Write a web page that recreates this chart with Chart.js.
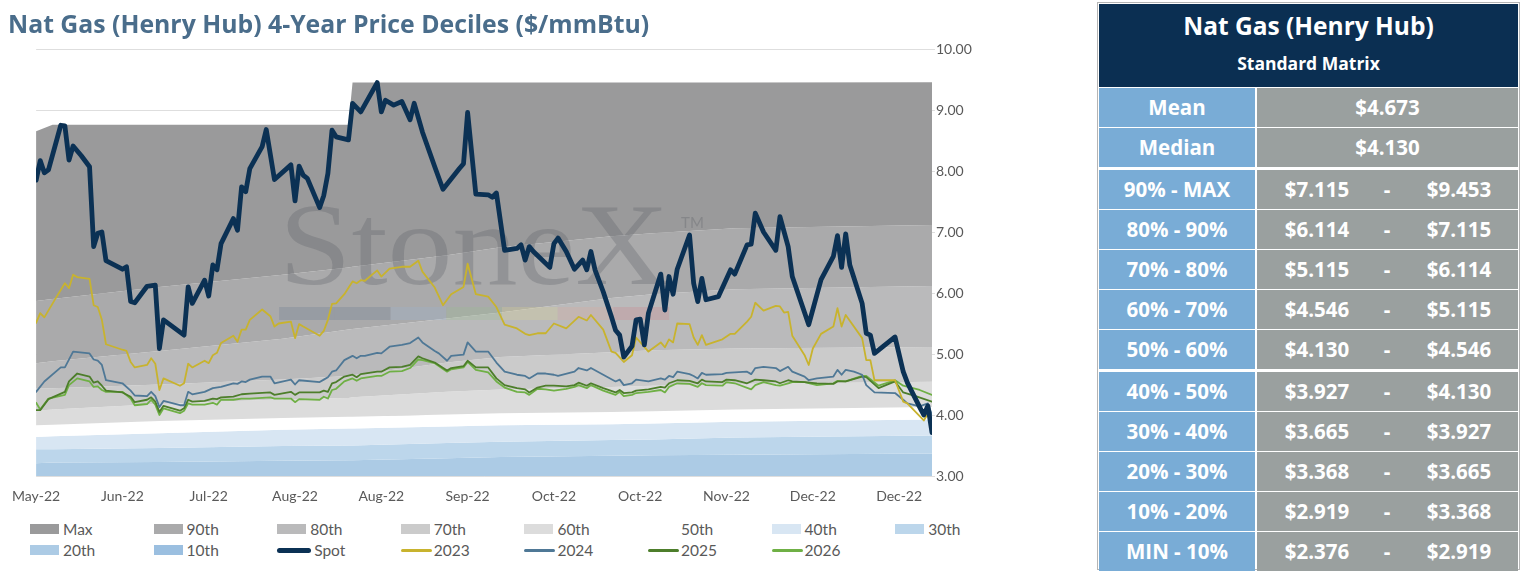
<!DOCTYPE html>
<html lang="en">
<head>
    <meta charset="UTF-8" />
    <title>Nat Gas (Henry Hub) 4-Year Price Deciles</title>
    <style>
        * { margin: 0; padding: 0; box-sizing: border-box; }
        body { width: 1522px; height: 572px; background: #fff; position: relative; overflow: hidden; font-family: Lato, "Open Sans", sans-serif; }
        #title { position: absolute; left: 8px; top: 6px; font-family: "Open Sans", sans-serif; font-size: 24.8px; font-weight: 700; color: #4a6d8b; white-space: nowrap; z-index: 2; }
        .chartBox { position: absolute; left: 0; top: 0; width: 1000px; height: 515px; }
        #legend { position: absolute; left: 0; top: 519px; width: 1000px; height: 45px; font-size: 15.5px; color: #595959; }
        .lg { position: absolute; height: 20px; line-height: 20px; white-space: nowrap; }
        .lg i { position: absolute; left: 0; display: block; }
        .lg span { position: absolute; left: 33px; }
        #matrix { position: absolute; left: 1097px; top: 2px; width: 423px; height: 568px; border: 1px solid #b5b5b5; background: #fff; font-family: "Open Sans", sans-serif; }
        .hdr { position: absolute; left: 1px; top: 1px; width: 419px; height: 83px; background: #0b2f52; color: #fff; text-align: center; font-weight: 700; }
        .hdr .t1 { font-size: 24.5px; line-height: 30px; padding-top: 7px; }
        .hdr .t2 { font-size: 17.5px; line-height: 22px; padding-top: 11px; }
        .row { position: absolute; left: 1px; width: 419px; height: 39px; color: #fff; font-weight: 700; font-size: 20.5px; }
        .row .lab { position: absolute; left: 0; top: 0; width: 156px; height: 39px; line-height: 39px; background: #79acd6; text-align: center; }
        .row .val { position: absolute; left: 158px; top: 0; width: 261px; height: 39px; line-height: 39px; background: #9aa09f; }
        .val .c { position: absolute; left: 0; width: 261px; text-align: center; }
        .val .lo { position: absolute; left: 8px; width: 104px; text-align: center; }
        .val .dash { position: absolute; left: 110px; width: 40px; text-align: center; }
        .val .hi { position: absolute; left: 150px; width: 104px; text-align: center; }
    </style>
</head>
<body>
    <div id="title">Nat Gas (Henry Hub) 4-Year Price Deciles ($/mmBtu)</div>
    <div class="chartBox"><canvas id="myChart"></canvas></div>
    <div id="legend"></div>
    <div id="matrix"></div>

    <script src="https://cdn.jsdelivr.net/npm/chart.js@4.4.1/dist/chart.umd.min.js"></script>
    <script>
        // x axis = trading calendar days from the first date
        const tickLabels = ["May-22", "Jun-22", "Jul-22", "Aug-22", "Aug-22", "Sep-22", "Oct-22", "Oct-22", "Nov-22", "Dec-22", "Dec-22"];
        const tickDays = [0, 21, 42, 63, 84, 105, 126, 147, 168, 189, 210];
        const yTicks = [3, 4, 5, 6, 7, 8, 9, 10];

        // decile bands, read at these days
        const bandDays = [0, 4, 30, 60, 76, 77, 100, 113, 140, 150, 170, 218];
        const bandMax = [8.65, 8.76, 8.76, 8.76, 8.76, 9.45, 9.45, 9.45, 9.45, 9.45, 9.45, 9.453];
        const band90 = [5.87, 5.90, 6.10, 6.30, 6.42, 6.43, 6.62, 6.75, 6.93, 6.98, 7.06, 7.115];
        const band80 = [4.85, 4.88, 5.05, 5.25, 5.40, 5.41, 5.58, 5.68, 5.92, 5.98, 6.06, 6.114];
        const band70 = [4.43, 4.44, 4.50, 4.58, 4.64, 4.65, 4.86, 4.95, 5.03, 5.06, 5.09, 5.115];
        const band60 = [4.07, 4.09, 4.18, 4.26, 4.28, 4.29, 4.38, 4.42, 4.46, 4.48, 4.51, 4.546];
        const band50 = [3.83, 3.84, 3.90, 3.95, 3.97, 3.97, 4.01, 4.03, 4.05, 4.06, 4.09, 4.130];
        const band40 = [3.64, 3.65, 3.70, 3.76, 3.78, 3.78, 3.81, 3.83, 3.85, 3.86, 3.89, 3.927];
        const band30 = [3.44, 3.44, 3.46, 3.49, 3.50, 3.50, 3.54, 3.56, 3.59, 3.60, 3.63, 3.665];
        const band20 = [3.21, 3.22, 3.23, 3.25, 3.26, 3.26, 3.29, 3.31, 3.33, 3.34, 3.35, 3.368];
        const band10 = [2.75, 2.76, 2.78, 2.80, 2.81, 2.81, 2.84, 2.86, 2.88, 2.89, 2.90, 2.919];
        const bandMin = [2.20, 2.21, 2.23, 2.26, 2.27, 2.27, 2.30, 2.32, 2.34, 2.35, 2.36, 2.376];

        // [day, price]
        const spot = [[0,7.85],[1,8.17],[2,7.97],[3,8.02],[6,8.75],[7,8.74],[8,8.18],[9,8.41],[11,8.25],[13,8.07],[14,6.76],[15,6.98],[16,7.00],[17,6.53],[21,6.39],[22,6.43],[23,5.86],[24,5.84],[27,6.11],[29,6.13],[30,5.09],[31,5.56],[36,5.31],[37,6.10],[38,5.83],[41,6.21],[42,5.95],[43,6.46],[44,6.38],[45,6.81],[48,7.22],[49,7.03],[50,7.74],[51,7.66],[52,8.04],[55,8.40],[56,8.68],[58,7.86],[62,8.10],[63,7.51],[64,8.08],[65,7.93],[66,7.88],[69,7.40],[70,7.60],[71,7.96],[72,8.67],[73,8.56],[76,8.51],[77,9.11],[79,8.97],[83,9.45],[84,8.97],[85,9.16],[87,9.08],[89,9.14],[91,8.84],[92,9.11],[94,8.64],[97,8.07],[99,7.70],[103,8.04],[104,8.12],[105,8.96],[107,7.62],[110,7.61],[111,7.57],[112,7.64],[114,6.70],[117,6.73],[118,6.79],[119,6.54],[120,6.76],[121,6.68],[125,6.42],[126,6.81],[127,6.90],[129,6.68],[131,6.39],[133,6.54],[134,6.38],[135,6.68],[136,6.38],[138,6.02],[140,5.61],[141,5.39],[142,5.31],[143,4.95],[145,5.13],[146,5.56],[147,5.57],[148,5.15],[149,5.67],[152,6.31],[153,5.72],[154,6.27],[155,5.98],[156,6.39],[159,6.95],[160,6.16],[161,5.86],[162,6.24],[163,5.89],[166,5.94],[169,6.38],[170,6.31],[173,6.79],[174,6.80],[175,7.31],[177,7.00],[180,6.70],[181,7.25],[183,6.76],[184,6.27],[188,5.48],[191,6.22],[194,6.60],[195,6.94],[196,6.42],[197,6.97],[198,6.46],[201,5.83],[202,5.34],[203,5.31],[204,5.01],[209,5.28],[211,4.71],[212,4.53],[215,4.13],[216,4.00],[217,4.15],[218,3.71]];
        const strip2023 = [[0,5.51],[1,5.67],[2,5.60],[5,5.94],[7,6.16],[8,6.08],[9,6.30],[10,6.26],[13,6.23],[14,5.80],[15,5.77],[16,5.56],[17,5.16],[21,5.07],[22,5.05],[23,4.87],[24,4.78],[27,4.82],[28,4.93],[29,4.84],[30,4.41],[31,4.60],[35,4.48],[36,4.52],[37,4.84],[38,4.78],[41,4.89],[42,4.85],[43,4.98],[44,5.02],[45,5.18],[48,5.30],[49,5.20],[50,5.40],[51,5.40],[52,5.56],[55,5.73],[57,5.62],[58,5.45],[59,5.50],[62,5.53],[63,5.26],[64,5.49],[65,5.45],[69,5.30],[70,5.38],[71,5.56],[72,5.82],[73,5.83],[75,5.98],[77,6.19],[78,6.16],[79,6.21],[80,6.20],[83,6.37],[84,6.27],[86,6.40],[89,6.43],[91,6.43],[93,6.53],[94,6.35],[97,6.09],[99,5.80],[101,5.98],[104,6.10],[105,6.48],[107,5.98],[110,5.94],[112,5.77],[114,5.48],[117,5.42],[119,5.33],[120,5.31],[122,5.34],[124,5.34],[126,5.50],[129,5.42],[132,5.61],[134,5.55],[135,5.64],[138,5.40],[140,5.04],[141,5.02],[143,4.87],[145,4.98],[146,5.27],[149,5.04],[152,5.19],[153,5.11],[154,5.24],[155,5.19],[156,5.50],[159,5.49],[160,5.27],[161,5.15],[162,5.31],[163,5.15],[167,5.24],[169,5.33],[170,5.33],[173,5.53],[174,5.61],[175,5.84],[177,5.71],[180,5.79],[181,5.78],[182,5.68],[183,5.69],[184,5.30],[187,4.98],[188,4.82],[189,5.09],[191,5.33],[194,5.45],[195,5.75],[196,5.45],[197,5.64],[201,5.26],[202,4.90],[203,4.90],[204,4.57],[209,4.57],[211,4.22],[212,4.19],[216,3.91],[217,4.02],[218,3.74]];
        const strip2024 = [[0,4.38],[2,4.55],[6,4.78],[7,4.78],[9,5.04],[13,5.01],[14,4.91],[15,4.89],[16,4.82],[17,4.57],[21,4.52],[23,4.40],[24,4.32],[27,4.31],[28,4.38],[29,4.31],[30,4.13],[31,4.23],[35,4.16],[36,4.16],[37,4.38],[38,4.34],[41,4.38],[43,4.44],[45,4.46],[48,4.52],[49,4.51],[50,4.55],[51,4.54],[52,4.58],[55,4.63],[57,4.63],[58,4.52],[62,4.58],[63,4.50],[64,4.57],[69,4.54],[70,4.58],[71,4.62],[72,4.71],[73,4.73],[75,4.90],[77,4.97],[78,4.93],[79,4.97],[80,4.97],[83,5.02],[84,5.01],[86,5.12],[89,5.15],[91,5.18],[93,5.27],[94,5.19],[97,5.05],[98,5.01],[100,4.89],[101,4.97],[104,4.99],[105,5.19],[107,5.04],[110,5.04],[112,4.86],[114,4.71],[117,4.66],[119,4.64],[120,4.60],[122,4.68],[124,4.68],[126,4.66],[127,4.64],[131,4.71],[132,4.77],[134,4.73],[135,4.77],[138,4.66],[141,4.55],[142,4.58],[143,4.49],[145,4.52],[146,4.58],[149,4.55],[152,4.60],[153,4.58],[154,4.64],[155,4.62],[156,4.71],[159,4.67],[160,4.64],[161,4.60],[162,4.69],[163,4.66],[167,4.67],[168,4.69],[173,4.71],[174,4.67],[175,4.77],[177,4.79],[180,4.77],[181,4.72],[183,4.79],[184,4.71],[187,4.63],[188,4.57],[190,4.60],[194,4.63],[195,4.74],[196,4.66],[197,4.74],[199,4.71],[201,4.66],[202,4.49],[204,4.37],[209,4.36],[211,4.25],[212,4.19],[215,4.14],[217,4.19],[218,4.00]];
        const strip2025 = [[0,4.08],[1,4.08],[3,4.26],[7,4.38],[8,4.55],[10,4.68],[13,4.63],[14,4.53],[15,4.55],[16,4.48],[17,4.40],[21,4.37],[23,4.30],[24,4.21],[27,4.25],[28,4.29],[29,4.22],[30,4.05],[31,4.15],[35,4.07],[36,4.11],[37,4.25],[38,4.22],[41,4.23],[43,4.27],[44,4.26],[45,4.29],[48,4.30],[50,4.34],[52,4.35],[57,4.37],[58,4.33],[62,4.38],[63,4.33],[64,4.37],[69,4.37],[70,4.40],[71,4.38],[72,4.52],[73,4.54],[75,4.63],[77,4.66],[78,4.62],[79,4.67],[83,4.71],[84,4.71],[86,4.78],[89,4.79],[91,4.82],[93,4.96],[94,4.93],[97,4.86],[100,4.73],[101,4.77],[104,4.80],[105,4.89],[107,4.78],[110,4.78],[112,4.60],[114,4.49],[117,4.44],[119,4.42],[120,4.37],[122,4.45],[124,4.48],[126,4.48],[129,4.47],[131,4.49],[132,4.53],[134,4.48],[135,4.52],[138,4.44],[141,4.37],[142,4.41],[143,4.36],[145,4.37],[146,4.40],[149,4.42],[152,4.46],[153,4.45],[154,4.52],[156,4.57],[159,4.56],[161,4.52],[162,4.58],[163,4.55],[167,4.54],[168,4.58],[170,4.57],[173,4.52],[175,4.58],[177,4.57],[180,4.55],[181,4.52],[183,4.57],[184,4.55],[187,4.54],[190,4.52],[194,4.51],[195,4.55],[197,4.55],[201,4.63],[202,4.62],[205,4.44],[209,4.55],[211,4.37],[214,4.31],[218,4.22]];
        const strip2026 = [[0,4.20],[1,4.09],[3,4.27],[7,4.33],[8,4.49],[10,4.60],[13,4.55],[14,4.46],[15,4.47],[16,4.41],[17,4.38],[21,4.38],[23,4.27],[24,4.16],[27,4.18],[28,4.25],[29,4.17],[30,4.00],[31,4.11],[35,4.03],[36,4.07],[37,4.19],[38,4.17],[41,4.17],[43,4.20],[44,4.17],[45,4.25],[48,4.25],[50,4.27],[52,4.27],[57,4.29],[58,4.27],[62,4.27],[63,4.21],[64,4.26],[69,4.25],[70,4.30],[71,4.27],[72,4.41],[73,4.43],[75,4.55],[77,4.60],[78,4.56],[79,4.60],[83,4.64],[84,4.64],[86,4.71],[89,4.72],[91,4.77],[93,4.91],[94,4.90],[97,4.85],[100,4.71],[101,4.75],[104,4.78],[105,4.87],[107,4.74],[110,4.70],[112,4.55],[114,4.45],[117,4.38],[119,4.37],[120,4.33],[122,4.43],[124,4.42],[126,4.40],[129,4.43],[131,4.46],[132,4.49],[134,4.44],[135,4.49],[138,4.40],[141,4.33],[142,4.38],[143,4.31],[145,4.33],[146,4.36],[149,4.38],[152,4.41],[153,4.37],[154,4.46],[156,4.52],[159,4.51],[161,4.46],[162,4.52],[163,4.49],[167,4.48],[168,4.54],[170,4.52],[174,4.42],[175,4.49],[177,4.54],[180,4.49],[181,4.48],[183,4.52],[184,4.54],[187,4.54],[190,4.49],[194,4.52],[195,4.56],[197,4.55],[201,4.64],[202,4.64],[205,4.48],[209,4.57],[211,4.48],[215,4.41],[218,4.33]];

        // Standard Matrix table
        const statLabels = ["Mean", "Median"];
        const statValues = ["$4.673", "$4.130"];
        const decileLabels = ["90% - MAX", "80% - 90%", "70% - 80%", "60% - 70%", "50% - 60%", "40% - 50%", "30% - 40%", "20% - 30%", "10% - 20%", "MIN - 10%"];
        const decileLow = ["$7.115", "$6.114", "$5.115", "$4.546", "$4.130", "$3.927", "$3.665", "$3.368", "$2.919", "$2.376"];
        const decileHigh = ["$9.453", "$7.115", "$6.114", "$5.115", "$4.546", "$4.130", "$3.927", "$3.665", "$3.368", "$2.919"];

        const bands = [
            { label: "Max", values: bandMax, color: "#9a9a9b" },
            { label: "90th", values: band90, color: "#aaaaab" },
            { label: "80th", values: band80, color: "#bababb" },
            { label: "70th", values: band70, color: "#cbcbcb" },
            { label: "60th", values: band60, color: "#dcdcdc" },
            { label: "50th", values: band50, color: "#ffffff" },
            { label: "40th", values: band40, color: "#d8e6f3" },
            { label: "30th", values: band30, color: "#bcd6eb" },
            { label: "20th", values: band20, color: "#accbe5" },
            { label: "10th", values: band10, color: "#9bbfe0" },
        ];
        const lines = [
            { label: "Spot", data: spot, color: "#0b3154", width: 4.8 },
            { label: "2023", data: strip2023, color: "#c8b32e", width: 1.8 },
            { label: "2024", data: strip2024, color: "#4f7896", width: 1.8 },
            { label: "2025", data: strip2025, color: "#4d7e2b", width: 1.8 },
            { label: "2026", data: strip2026, color: "#6fb045", width: 1.8 },
        ];

        const toPoints = (days, vals) => days.map((d, i) => ({ x: d, y: vals[i] }));
        const toXY = (pairs) => pairs.map(p => ({ x: p[0], y: p[1] }));

        const datasets = [];
        lines.forEach((l, i) => {
            datasets.push({
                label: l.label,
                data: toXY(l.data),
                borderColor: l.color,
                borderWidth: l.width,
                pointRadius: 0,
                fill: false,
                tension: 0,
                borderJoinStyle: "round",
                borderCapStyle: "round",
                order: i + 1,
            });
        });
        bands.forEach((b) => {
            datasets.push({
                label: b.label,
                data: toPoints(bandDays, b.values),
                borderWidth: 0,
                borderColor: "rgba(0,0,0,0)",
                backgroundColor: b.color,
                pointRadius: 0,
                fill: "+1",
                tension: 0,
                order: 20,
            });
        });
        datasets.push({
            label: "Min",
            data: toPoints(bandDays, bandMin),
            borderWidth: 0,
            borderColor: "rgba(0,0,0,0)",
            pointRadius: 0,
            fill: false,
            order: 20,
        });

        // StoneX watermark, painted over the bands but under the price lines
        const watermark = {
            id: "watermark",
            beforeDatasetDraw(chart, args) {
                if (args.index !== lines.length - 1) return;
                const { ctx, chartArea } = chart;
                const left = chartArea.left + 243;
                const base = chartArea.top + 235;
                const w = 390;
                ctx.save();
                ctx.font = '116px "Liberation Serif", "DejaVu Serif", serif';
                ctx.fillStyle = "rgba(85, 90, 96, 0.28)";
                const m = ctx.measureText("StoneX").width;
                ctx.translate(left, base);
                ctx.scale(w / m, 1);
                ctx.fillText("StoneX", 0, 0);
                ctx.restore();
                ctx.save();
                ctx.font = '15px Lato, sans-serif';
                ctx.fillStyle = "rgba(85, 90, 96, 0.3)";
                ctx.fillText("TM", left + w + 12, base - 56);
                const segs = ["rgba(110,125,145,0.3)", "rgba(110,125,145,0.3)", "rgba(150,180,210,0.25)", "rgba(150,190,140,0.25)", "rgba(225,215,140,0.25)", "rgba(215,170,160,0.3)", "rgba(200,140,150,0.35)"];
                const segW = w / segs.length;
                segs.forEach((c, i) => {
                    ctx.fillStyle = c;
                    ctx.fillRect(left + i * segW, base + 23, segW, 13);
                });
                ctx.restore();
            },
        };

        const config = {
            type: "line",
            data: { datasets: datasets },
            plugins: [watermark],
            options: {
                responsive: true,
                maintainAspectRatio: false,
                animation: false,
                layout: { padding: { left: 33, right: 23, top: 49, bottom: 9 } },
                scales: {
                    x: {
                        type: "linear",
                        min: 0,
                        max: 218,
                        afterBuildTicks: (s) => { s.ticks = tickDays.map(v => ({ value: v })); },
                        afterFit: (s) => { s.height = 30; },
                        grid: { display: false, drawTicks: false },
                        border: { display: false },
                        ticks: {
                            autoSkip: false,
                            maxRotation: 0,
                            padding: 12,
                            color: "#595959",
                            font: { family: "Lato", size: 14 },
                            callback: (v, i) => tickLabels[i],
                        },
                    },
                    y: {
                        position: "right",
                        min: 3,
                        max: 10,
                        z: 1,
                        afterBuildTicks: (s) => { s.ticks = yTicks.map(v => ({ value: v })); },
                        afterFit: (s) => { s.width = 45; },
                        grid: { color: "rgba(0,0,0,0.13)", drawTicks: true, tickLength: 3 },
                        border: { display: false },
                        ticks: {
                            crossAlign: "near",
                            padding: 1,
                            color: "#595959",
                            font: { family: "Lato", size: 14 },
                            callback: (v) => Number(v).toFixed(2),
                        },
                    },
                },
                plugins: {
                    legend: { display: false },
                    tooltip: { enabled: false },
                    filler: { propagate: false },
                },
            },
        };

        const ctx = document.getElementById("myChart").getContext("2d");
        const myChart = new Chart(ctx, config);

        // legend, two rows of fixed columns like the original
        const legendItems = bands.map(b => ({ label: b.label, color: b.color, box: true }))
            .concat(lines.map(l => ({ label: l.label, color: l.color, box: false, width: l.width })));
        const legend = document.getElementById("legend");
        legendItems.forEach((it, k) => {
            const el = document.createElement("div");
            el.className = "lg";
            el.style.left = (30 + (k % 8) * 123.6) + "px";
            el.style.top = (Math.floor(k / 8) * 21) + "px";
            const sw = document.createElement("i");
            if (it.box) {
                sw.style.cssText = "top:5px;width:29px;height:10px;background:" + it.color;
            } else {
                const h = it.width > 3 ? 5 : 3;
                sw.style.cssText = "top:" + (10 - h / 2) + "px;width:" + (it.width > 3 ? 34 : 31) + "px;height:" + h + "px;border-radius:3px;background:" + it.color;
            }
            const tx = document.createElement("span");
            tx.textContent = it.label;
            if (!it.box && it.width > 3) tx.style.left = "37px";
            el.appendChild(sw);
            el.appendChild(tx);
            legend.appendChild(el);
        });

        // Standard Matrix table
        const matrix = document.getElementById("matrix");
        matrix.innerHTML = '<div class="hdr"><div class="t1">Nat Gas (Henry Hub)</div><div class="t2">Standard Matrix</div></div>';
        let rowTop = 85;
        const addRow = (label, inner) => {
            const r = document.createElement("div");
            r.className = "row";
            r.style.top = rowTop + "px";
            r.innerHTML = '<div class="lab">' + label + '</div><div class="val">' + inner + '</div>';
            matrix.appendChild(r);
            rowTop += 40;
        };
        statLabels.forEach((l, i) => addRow(l, '<span class="c">' + statValues[i] + '</span>'));
        rowTop += 2;
        decileLabels.forEach((l, i) => {
            if (i === 5) rowTop += 2;
            addRow(l, '<span class="lo">' + decileLow[i] + '</span><span class="dash">-</span><span class="hi">' + decileHigh[i] + '</span>');
        });
    </script>
</body>
</html>
